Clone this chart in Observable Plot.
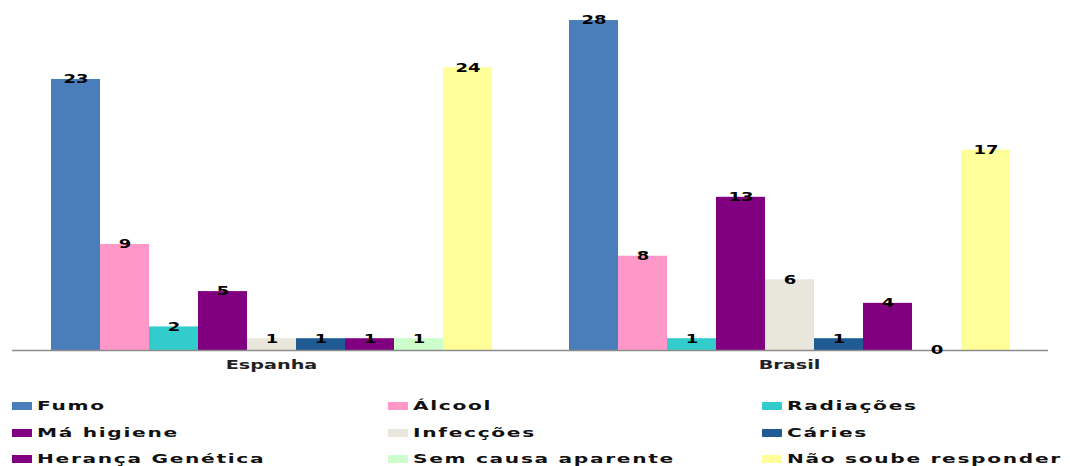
<!DOCTYPE html>
<html><head><meta charset="utf-8">
<script src="https://cdn.jsdelivr.net/npm/d3@7"></script>
<script src="https://cdn.jsdelivr.net/npm/@observablehq/plot@0.6"></script>
<style>
body{margin:0;background:#fff;font-family:"DejaVu Sans",sans-serif;}
#legend{position:relative;height:84px;width:1070px;overflow:hidden;}
.item{position:absolute;display:flex;align-items:center;height:20px;}
.sw{width:20px;height:8px;margin-right:5px;flex:none}
.lab{font-weight:bold;font-size:12px;letter-spacing:1px;transform:scaleX(1.68);transform-origin:left center;white-space:nowrap;color:#111}
</style></head><body><div id="chart"></div><div id="legend"></div>
<script>
const countries = ["Espanha", "Brasil"];
const causes = ["Fumo", "Álcool", "Radiações", "Má higiene", "Infecções", "Cáries", "Herança Genética", "Sem causa aparente", "Não soube responder"];
const espanha = [23, 9, 2, 5, 1, 1, 1, 1, 24];
const brasil = [28, 8, 1, 13, 6, 1, 4, 0, 17];
const colors = ["#4a7ebb", "#ff97c9", "#33cccc", "#800080", "#e9e7dc", "#1f5b94", "#800080", "#ccffcc", "#ffff99"];

const seriesByCountry = [espanha, brasil];
const data = countries.flatMap((c, ci) => causes.map((k, i) => ({country: c, cause: k, value: seriesByCountry[ci][i]})));

const chart = Plot.plot({
  width: 1070, height: 382,
  marginLeft: 12, marginRight: 22, marginTop: 0, marginBottom: 32,
  style: {fontFamily: "DejaVu Sans", fontSize: "12px", fontWeight: "bold", color: "#222", background: "#fff"},
  fx: {domain: countries, padding: 0, label: null, axis: "bottom", tickSize: 0, tickPadding: 10},
  x: {domain: causes, axis: null, paddingInner: 0, paddingOuter: 0.76},
  y: {domain: [0, 29.7], axis: null},
  color: {domain: causes, range: colors},
  marks: [
    Plot.barY(data, {fx: "country", x: "cause", y: "value", fill: "cause"}),
    Plot.ruleY([0], {stroke: "#8c8c8c", strokeWidth: 1.5}),
    Plot.text(data, {fx: "country", x: "cause", y: "value", text: "value", fontWeight: "bold", fontSize: 12, fill: "#000"})
  ]
});
document.getElementById("chart").appendChild(chart);

// widen the glyphs like the reference's stretched lettering
d3.select(chart).selectAll("text").each(function() {
  const t = this;
  const len = t.getComputedTextLength();
  if (!len) return;
  const isNum = /^\d+$/.test(t.textContent.trim());
  t.setAttribute("textLength", len * (isNum ? 1.5 : 1.6));
  t.setAttribute("lengthAdjust", "spacingAndGlyphs");
});

const legend = document.getElementById("legend");
const colX = [12, 388, 762];
const rowY = [406, 433, 459];
causes.forEach((k, i) => {
  const it = document.createElement("div");
  it.className = "item";
  it.style.left = colX[i % 3] + "px";
  it.style.top = (rowY[Math.floor(i / 3)] - 382 - 10) + "px";
  const sw = document.createElement("div");
  sw.className = "sw"; sw.style.background = colors[i];
  const lab = document.createElement("span");
  lab.className = "lab"; lab.textContent = k;
  it.appendChild(sw); it.appendChild(lab);
  legend.appendChild(it);
});
</script></body></html>
